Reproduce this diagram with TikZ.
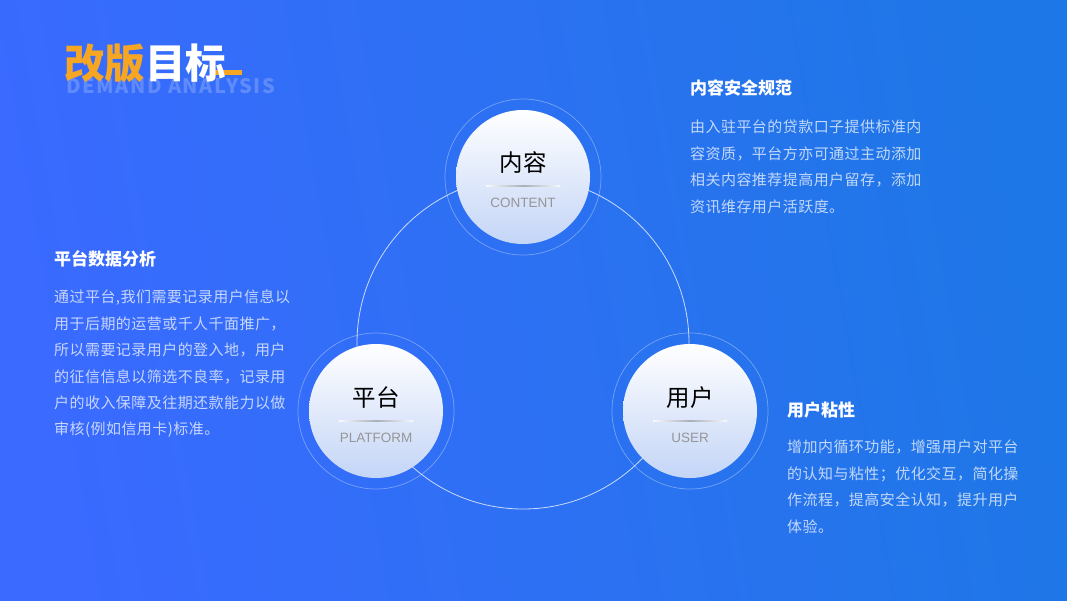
\documentclass[tikz,border=0pt]{standalone}
\usepackage{fontspec}
\setmainfont{Noto Sans CJK SC}
\newfontfamily\cjk{Noto Sans CJK SC}
\newfontfamily\cjkbody[LetterSpace=3]{Noto Sans CJK SC}
\newfontfamily\cjkwide[LetterSpace=8]{Noto Sans CJK SC}
\newfontfamily\latin{Liberation Sans}
\definecolor{bgL}{RGB}{58,106,255}
\definecolor{bgR}{RGB}{30,119,230}
\definecolor{orangeT}{RGB}{247,166,35}
\definecolor{circBot}{RGB}{196,213,247}
\definecolor{divgray}{RGB}{170,174,182}
\definecolor{subgray}{RGB}{150,150,150}
\definecolor{ghost}{RGB}{115,152,252}
\tikzset{
  ring/.style={draw=white, draw opacity=0.35, line width=0.7pt},
  bigring/.style={draw=white, draw opacity=0.75, line width=0.8pt},
  disc/.style={circle, minimum size=134pt, inner sep=0pt, top color=white, bottom color=circBot, shading angle=0},
  maintxt/.style={font=\cjk\fontsize{23.5}{26}\selectfont, text=black},
  subtxt/.style={font=\latin\fontsize{13.5}{16}\selectfont, text=subgray},
  divider/.style={left color=white!90!circBot, right color=white!85!circBot, middle color=divgray},
  head/.style={font=\cjk\bfseries\fontsize{17}{20}\selectfont, text=white, anchor=west, inner sep=0pt},
  para/.style={font=\cjkbody\fontsize{15}{26.4}\selectfont, text=white, text opacity=0.72, anchor=north west, align=left, inner sep=0pt},
}
\begin{document}
\begin{tikzpicture}[x=1pt,y=-1pt]
\useasboundingbox (0,0) rectangle (1067,600);
\shade[left color=bgL, right color=bgR, shading angle=100] (0,0) rectangle (1067,600);

% title
\node[font=\cjkwide\bfseries\fontsize{20}{24}\selectfont, text=ghost, text opacity=0.7, anchor=west, inner sep=0pt] (ghost) at (66,86) {DEMAND ANALYSIS};
\fill[orangeT] (211,70) rectangle (242,75);
\node[font=\cjk\bfseries\fontsize{40.5}{44}\selectfont, anchor=west, inner sep=0pt] (title) at (64,63) {\textcolor{orangeT}{改版}\textcolor{white}{目标}};

% connecting ring
\coordinate (ringc) at (523,343);
\draw[bigring] (ringc) circle (166);

% content
\coordinate (cC) at (523,177);
\draw[ring] (cC) circle (78);
\node[disc] (content) at (cC) {};
\node[maintxt] (contentT) at (523,163) {内容};
\shade[divider] (486,185.5) rectangle (560,186.7);
\node[subtxt] (contentS) at (523,203) {CONTENT};

% platform
\coordinate (cP) at (376,411);
\draw[ring] (cP) circle (78);
\node[disc] (platform) at (cP) {};
\node[maintxt] (platformT) at (376,398) {平台};
\shade[divider] (339,420.5) rectangle (413,421.7);
\node[subtxt] (platformS) at (376,438) {PLATFORM};

% user
\coordinate (cU) at (690,411);
\draw[ring] (cU) circle (78);
\node[disc] (user) at (cU) {};
\node[maintxt] (userT) at (690,398) {用户};
\shade[divider] (653,420.5) rectangle (727,421.7);
\node[subtxt] (userS) at (690,438) {USER};

% text blocks
\node[head] (h1) at (690,88) {内容安全规范};
\node[para] (p1) at (690,120) {由入驻平台的贷款口子提供标准内\\容资质，平台方亦可通过主动添加\\相关内容推荐提高用户留存，添加\\资讯维存用户活跃度。};

\node[head] (h2) at (54,259) {平台数据分析};
\node[para] (p2) at (54,290) {通过平台,我们需要记录用户信息以\\用于后期的运营或千人千面推广，\\所以需要记录用户的登入地，用户\\的征信信息以筛选不良率，记录用\\户的收入保障及往期还款能力以做\\审核(例如信用卡)标准。};

\node[head] (h3) at (787,410) {用户粘性};
\node[para] (p3) at (787,440) {增加内循环功能，增强用户对平台\\的认知与粘性；优化交互，简化操\\作流程，提高安全认知，提升用户\\体验。};
\end{tikzpicture}
\end{document}
